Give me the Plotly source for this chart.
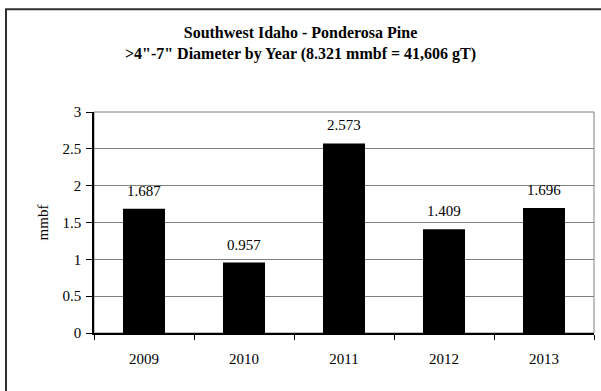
import plotly.graph_objects as go

years = ["2009", "2010", "2011", "2012", "2013"]
mmbf = [1.687, 0.957, 2.573, 1.409, 1.696]
labels = ["1.687", "0.957", "2.573", "1.409", "1.696"]

serif = "Liberation Serif, Times New Roman, serif"

fig = go.Figure()
fig.add_trace(go.Bar(x=years, y=mmbf, marker=dict(color="black", line=dict(width=0)),
                     width=0.42, showlegend=False))

# value labels above the bars (category axis -> use the serial index for x)
for i, (v, t) in enumerate(zip(mmbf, labels)):
    fig.add_annotation(x=i, y=v, text=t, showarrow=False, yanchor="bottom",
                       yshift=8, font=dict(family=serif, size=15, color="black"))

fig.update_layout(
    width=601, height=391,
    margin=dict(l=94, r=7, t=112, b=58),
    paper_bgcolor="white", plot_bgcolor="white",
    font=dict(family=serif, size=15, color="black"),
    title=dict(text="<b>Southwest Idaho - Ponderosa Pine<br>&gt;4\"-7\" Diameter by Year (8.321 mmbf = 41,606 gT)</b>",
               x=0.5, xanchor="center", y=0.903, yanchor="middle",
               font=dict(family=serif, size=16, color="black")),
)
fig.update_xaxes(type="category", showline=True, linecolor="black", linewidth=1.5, ticks="outside",
                 tickson="boundaries", ticklen=5, tickcolor="black",
                 showgrid=False, ticklabelstandoff=11)
fig.update_yaxes(range=[0, 3], dtick=0.5, showline=True, linecolor="black", linewidth=1.5,
                 ticks="outside", ticklen=6, tickcolor="black", showgrid=True,
                 gridcolor="#808080", gridwidth=1, zeroline=False, ticklabelstandoff=2,
                 title=dict(text="mmbf", standoff=10, font=dict(family=serif, size=15)))

# plot area frame (grey) and outer chart border
fig.add_shape(type="rect", xref="paper", yref="paper", x0=0, x1=1, y0=0, y1=1,
              line=dict(color="#808080", width=1), layer="below")
fig.add_shape(type="rect", xref="paper", yref="paper", x0=-0.176, x1=1.2, y0=-0.6, y1=1.465,
              line=dict(color="#303030", width=2))

fig.write_html("out.html", config={"displayModeBar": False},
               post_script="document.body.style.margin='0';")
